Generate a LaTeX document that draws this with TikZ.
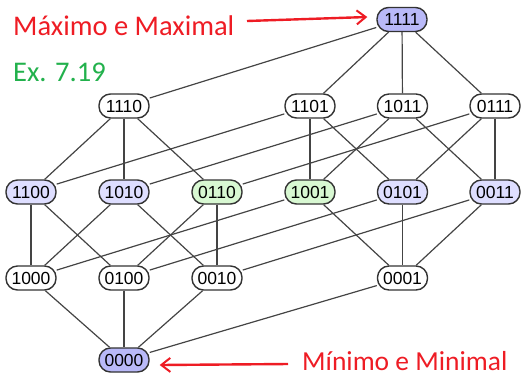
\documentclass[tikz,border=0pt]{standalone}
\usepackage{fontspec}
\setmainfont{Liberation Sans}
\newfontfamily\notefont{Carlito}
\usetikzlibrary{arrows.meta}

\definecolor{lblue}{HTML}{B9B9F8}
\definecolor{llblue}{HTML}{DEDEFF}
\definecolor{lgreen}{HTML}{D8F8D2}
\definecolor{nred}{HTML}{EE1C24}
\definecolor{ngreen}{HTML}{22B14C}
\definecolor{edgegray}{HTML}{444444}

\tikzset{
  elem/.style={draw=black!80, line width=1.4pt, rounded corners=11.5pt, minimum width=50pt, minimum height=24pt, inner sep=0pt, font=\fontsize{17.5}{17.5}\selectfont, fill=white},
  maxmin/.style={elem, fill=lblue},
  blu/.style={elem, fill=llblue},
  grn/.style={elem, fill=lgreen},
  hasse/.style={draw=edgegray, line width=1.2pt},
  note/.style={font=\notefont\fontsize{28.5}{28.5}\selectfont, inner sep=0pt, anchor=base west},
  pointer/.style={draw=nred, line width=2.4pt, -{Straight Barb[length=9pt, width=14pt, line width=2pt]}}
}

\begin{document}
\begin{tikzpicture}[x=1pt,y=1pt,yscale=-1]
\useasboundingbox (0,0) rectangle (521,376);

% Text Node
\node (tmax) [note, text=nred] at (13,35) {Máximo e Maximal};
% Text Node
\node (tex) [note, text=ngreen] at (13,81) {Ex. 7.19};
% Text Node
\node (tmin) [note, text=nred, font=\notefont\fontsize{27.5}{27.5}\selectfont] at (302,370.5) {Mínimo e Minimal};

% top
\node (n1111) [maxmin] at (402,19.5) {1111};
% level 3
\node (n1110) [elem] at (124,106) {1110};
\node (n1101) [elem] at (310,106) {1101};
\node (n1011) [elem] at (402.5,106) {1011};
\node (n0111) [elem] at (495,106) {0111};
% level 2
\node (n1100) [blu] at (31,192) {1100};
\node (n1010) [blu] at (124,192) {1010};
\node (n0110) [grn] at (217,192) {0110};
\node (n1001) [grn] at (310,192) {1001};
\node (n0101) [blu] at (402.5,192) {0101};
\node (n0011) [blu] at (495,192) {0011};
% level 1
\node (n1000) [elem] at (31,278) {1000};
\node (n0100) [elem] at (124,278) {0100};
\node (n0010) [elem] at (217,278) {0010};
\node (n0001) [elem] at (402.5,278) {0001};
% bottom
\node (n0000) [maxmin] at (124,360) {0000};

%Straight Lines
\draw [hasse] (n1111) -- (n1110);
\draw [hasse] (n1111) -- (n1101);
\draw [hasse] (n1111) -- (n1011);
\draw [hasse] (n1111) -- (n0111);
%Straight Lines
\draw [hasse] (n1110) -- (n1100);
\draw [hasse] (n1110) -- (n1010);
\draw [hasse] (n1110) -- (n0110);
\draw [hasse] (n1101) -- (n1100);
\draw [hasse] (n1101) -- (n1001);
\draw [hasse] (n1101) -- (n0101);
\draw [hasse] (n1011) -- (n1010);
\draw [hasse] (n1011) -- (n1001);
\draw [hasse] (n1011) -- (n0011);
\draw [hasse] (n0111) -- (n0110);
\draw [hasse] (n0111) -- (n0101);
\draw [hasse] (n0111) -- (n0011);
%Straight Lines
\draw [hasse] (n1100) -- (n1000);
\draw [hasse] (n1100) -- (n0100);
\draw [hasse] (n1010) -- (n1000);
\draw [hasse] (n1010) -- (n0010);
\draw [hasse] (n0110) -- (n0100);
\draw [hasse] (n0110) -- (n0010);
\draw [hasse] (n1001) -- (n1000);
\draw [hasse] (n1001) -- (n0001);
\draw [hasse] (n0101) -- (n0100);
\draw [hasse] (n0101) -- (n0001);
\draw [hasse] (n0011) -- (n0010);
\draw [hasse] (n0011) -- (n0001);
%Straight Lines
\draw [hasse] (n1000) -- (n0000);
\draw [hasse] (n0100) -- (n0000);
\draw [hasse] (n0010) -- (n0000);
\draw [hasse] (n0001) -- (n0000);

%Arrows
\coordinate (amax) at (247,21);
\coordinate (amin) at (288,364);
\draw [pointer] (amax) -- ([xshift=-9pt,yshift=-2.5pt]n1111.west);
\draw [pointer] (amin) -- ([xshift=10pt,yshift=5pt]n0000.east);

\end{tikzpicture}
\end{document}
